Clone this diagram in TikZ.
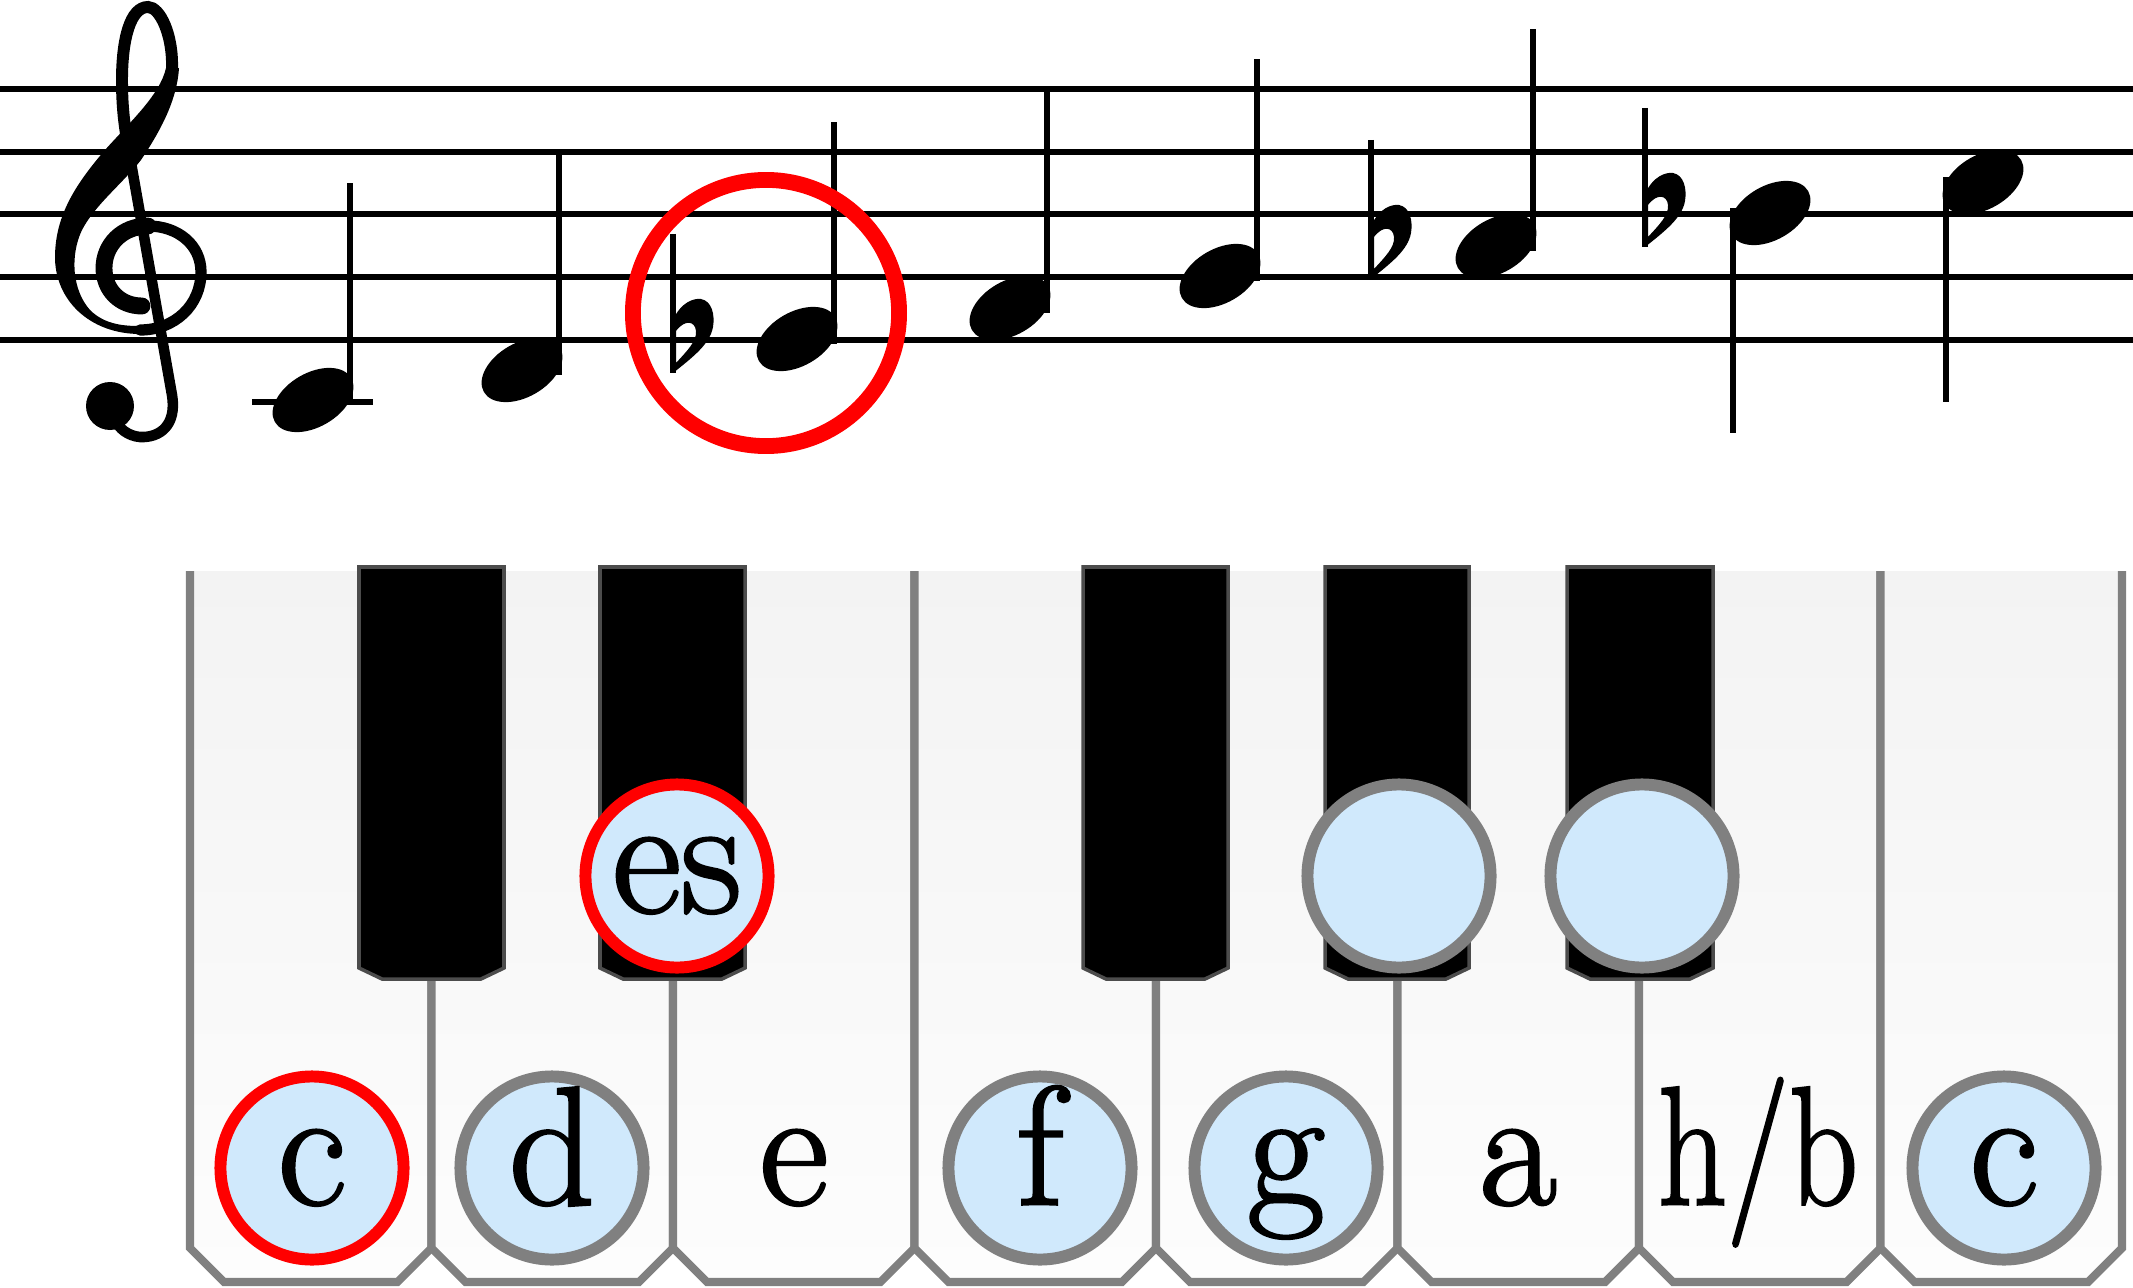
\documentclass[tikz,border=0pt]{standalone}
\usepackage{fontspec}
\usepackage{tikz}

\newfontfamily\keyfont{Latin Modern Roman}[FakeBold=1.6]

\definecolor{keytop}{RGB}{243,243,243}
\definecolor{keybottom}{RGB}{253,253,253}
\definecolor{keyedge}{RGB}{128,128,128}
\definecolor{ringfill}{RGB}{208,233,252}

\tikzset{
  staffline/.style={line width=1.9pt},
  stemline/.style={line width=1.7pt},
  whitekey/.style={draw=keyedge, line width=2.3pt, top color=keytop, bottom color=keybottom},
  blackkey/.style={fill=black, draw=black!70, line width=1pt},
  keyname/.style={font=\keyfont\fontsize{48}{56}\selectfont, text height=20.7pt, text depth=0pt, inner sep=0pt},
  notering/.style={keyname, circle, fill=ringfill, draw=keyedge, line width=3.4pt, minimum size=1.83cm},
  headup/.pic={
    \fill[rotate=30] (0,0) ellipse (44 and 27);
    \draw[stemline] (37,5) -- (37,-217);
  },
  headdown/.pic={
    \fill[rotate=30] (0,0) ellipse (44 and 27);
    \draw[stemline] (-37,-5) -- (-37,220);
  },
  flatsign/.pic={
    \draw[line width=1.5pt] (0,-105) -- (0,34);
    \fill[even odd rule] (0,-19) .. controls (8,-37) and (21,-41) .. (28,-40)
      .. controls (39,-38) and (42,-24) .. (40,-12) .. controls (37,5) and (20,18) .. (0,34) -- cycle
      (3,24) .. controls (14,12) and (24,2) .. (23,-8) .. controls (22,-18) and (12,-20) .. (3,-8) -- cycle;
  }
}

\begin{document}
\begin{tikzpicture}[x=0.01cm, y=-0.01cm]
\useasboundingbox (0,0) rectangle (2133,1288);

% staff
\draw[staffline] (0,89) -- (2133,89);
\draw[staffline] (0,152) -- (2133,152);
\draw[staffline] (0,214) -- (2133,214);
\draw[staffline] (0,277) -- (2133,277);
\draw[staffline] (0,340) -- (2133,340);

% treble clef
\fill (140,334) .. controls (90,334) and (54,300) .. (55,255)
  .. controls (56,215) and (75,185) .. (105,150) .. controls (130,122) and (160,95) .. (166,68)
  -- (179,68) .. controls (177,100) and (161,130) .. (141,160)
  .. controls (121,185) and (95,205) .. (82,230) .. controls (70,255) and (72,290) .. (90,310)
  .. controls (105,325) and (125,326) .. (140,326) -- cycle;
\draw[line width=3.2pt, line cap=round] (140,330) .. controls (175,330) and (201,305) .. (201,272)
  .. controls (201,245) and (178,226) .. (148,226);
\draw[line width=4.8pt, line cap=round] (148,226) .. controls (122,226) and (104,245) .. (104,268)
  .. controls (104,290) and (120,306) .. (142,306);
\draw[line width=3.4pt, line cap=round] (172,68) .. controls (173,35) and (160,7) .. (148,7)
  .. controls (130,7) and (122,40) .. (122,80) .. controls (122,105) and (124,122) .. (127,140);
\draw[line width=3pt, line cap=round] (127,140) -- (172,395)
  .. controls (177,425) and (160,438) .. (140,437) .. controls (128,436) and (118,428) .. (116,420);
\fill (110,406) circle (24);

% notes of the scale
\draw[staffline] (252,402) -- (373,402);
\pic (nc) at (313,400) {headup};
\pic (nd) at (522,370) {headup};
\pic (fles) at (673,339) {flatsign};
\pic (nes) at (797,339) {headup};
\pic (nf) at (1010,308) {headup};
\pic (ng) at (1220,276) {headup};
\pic (flas) at (1371,245) {flatsign};
\pic (nas) at (1496,246) {headup};
\pic (flb) at (1645,213) {flatsign};
\pic (nb) at (1770,213) {headdown};
\pic (nc2) at (1983,182) {headdown};
\node (eshl) [circle, draw=red, line width=4.5pt, minimum size=2.66cm, inner sep=0pt] at (766,313) {};

% white keys
\draw[whitekey] (190,571) -- (190,1248) -- (224,1282) -- (397.5,1282) -- (431.5,1248) -- (431.5,571);
\draw[whitekey] (431.5,571) -- (431.5,1248) -- (465.5,1282) -- (639,1282) -- (673,1248) -- (673,571);
\draw[whitekey] (673,571) -- (673,1248) -- (707,1282) -- (880.5,1282) -- (914.5,1248) -- (914.5,571);
\draw[whitekey] (914.5,571) -- (914.5,1248) -- (948.5,1282) -- (1122,1282) -- (1156,1248) -- (1156,571);
\draw[whitekey] (1156,571) -- (1156,1248) -- (1190,1282) -- (1363.5,1282) -- (1397.5,1248) -- (1397.5,571);
\draw[whitekey] (1397.5,571) -- (1397.5,1248) -- (1431.5,1282) -- (1605,1282) -- (1639,1248) -- (1639,571);
\draw[whitekey] (1639,571) -- (1639,1248) -- (1673,1282) -- (1846.5,1282) -- (1880.5,1248) -- (1880.5,571);
\draw[whitekey] (1880.5,571) -- (1880.5,1248) -- (1914.5,1282) -- (2088,1282) -- (2122,1248) -- (2122,571);

% black keys
\draw[blackkey] (359,567) -- (359,968) -- (382,979) -- (481,979) -- (504,968) -- (504,567) -- cycle;
\draw[blackkey] (600,567) -- (600,968) -- (623,979) -- (722,979) -- (745,968) -- (745,567) -- cycle;
\draw[blackkey] (1083,567) -- (1083,968) -- (1106,979) -- (1205,979) -- (1228,968) -- (1228,567) -- cycle;
\draw[blackkey] (1325,567) -- (1325,968) -- (1348,979) -- (1446,979) -- (1469,968) -- (1469,567) -- cycle;
\draw[blackkey] (1567,567) -- (1567,968) -- (1590,979) -- (1690,979) -- (1713,968) -- (1713,567) -- cycle;

% key names
\node (kc) [notering, draw=red] at (312,1168) {c};
\node (kd) [notering] at (552,1168) {d};
\node (ke) [keyname] at (794,1168) {e};
\node (kf) [notering] at (1040,1168) {f};
\node (kg) [notering] at (1286,1168) {g};
\node (ka) [keyname] at (1518,1168) {a};
\node (kh) [keyname] at (1758,1168) {\scalebox{0.8}[1]{h/b}};
\node (kc2) [notering] at (2004,1168) {c};
\node (kes) [notering, draw=red] at (677,876) {es};
\node (kas) [notering] at (1399,876) {};
\node (kb) [notering] at (1642,876) {};
\end{tikzpicture}
\end{document}
